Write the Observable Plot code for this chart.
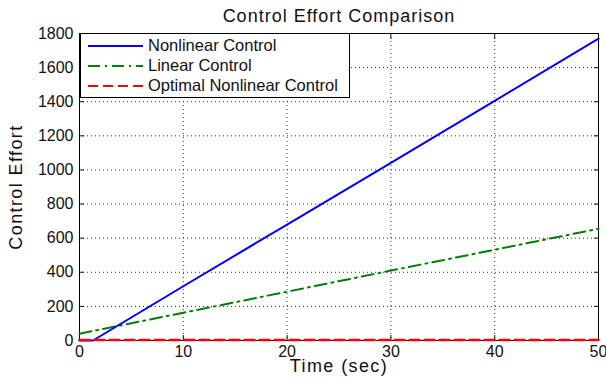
<!DOCTYPE html>
<html>
<head>
<meta charset="utf-8">
<script src="https://cdn.jsdelivr.net/npm/d3@7"></script>
<script src="https://cdn.jsdelivr.net/npm/@observablehq/plot@0.6"></script>
<style>
  body { margin: 0; background: #fff; font-family: Arial, "Liberation Sans", sans-serif; }
  #wrap { position: relative; width: 606px; height: 385px; }
  #legend { position: absolute; left: 80px; top: 33px; width: 270px; height: 65px; background: #fff;
            border: 1px solid #000; box-sizing: border-box; font-size: 16.5px; color: #111; }
  .row { position: absolute; left: 0; height: 20px; display: flex; align-items: center; }
  .row svg { margin-left: 7px; margin-right: 5px; }
  g[aria-label="x-axis label"] text, g[aria-label="y-axis label"] text { font-size: 18px; letter-spacing: 1.4px; }
  g[aria-label="x-axis tick label"] text, g[aria-label="y-axis tick label"] text { font-size: 16px; }
  g[aria-label="text"] text { letter-spacing: 1px; }
</style>
</head>
<body>
<div id="wrap"></div>
<script>
// Data
const timeNonlinear = [0, 1.3, 10, 20, 30, 40, 50];
const nonlinearControl = [0, 0, 318, 680, 1042, 1405, 1770];
const timeLinear = [0, 10, 20, 30, 40, 50];
const linearControl = [40, 163, 286, 410, 532, 655];
const timeOptimal = [0, 10, 20, 30, 40, 50];
const optimalControl = [3, 3, 3, 3, 3, 3];

const seriesNames = ["Nonlinear Control", "Linear Control", "Optimal Nonlinear Control"];
const seriesColors = ["#0000ff", "#008000", "#ff0000"];
const seriesDash = [null, "12,5,2,5", "10,5"];
const xTicks = [0, 10, 20, 30, 40, 50];
const yTicks = [0, 200, 400, 600, 800, 1000, 1200, 1400, 1600, 1800];

const nl = timeNonlinear.map((t, i) => ({t, v: nonlinearControl[i]}));
const li = timeLinear.map((t, i) => ({t, v: linearControl[i]}));
const op = timeOptimal.map((t, i) => ({t, v: optimalControl[i]}));

const fmt = d => String(d);

const chart = Plot.plot({
  width: 606,
  height: 385,
  marginLeft: 79,
  marginRight: 8,
  marginTop: 33,
  marginBottom: 45,
  style: { fontFamily: "Arial, 'Liberation Sans', sans-serif", fontSize: "16px", color: "#111", background: "#fff" },
  x: { domain: [0, 50] },
  y: { domain: [0, 1800] },
  marks: [
    Plot.gridX(xTicks, { stroke: "#333", strokeOpacity: 1, strokeDasharray: "1,3" }),
    Plot.gridY(yTicks, { stroke: "#333", strokeOpacity: 1, strokeDasharray: "1,3" }),
    Plot.axisX(xTicks, { anchor: "bottom", tickSize: 0, tickPadding: 5, tickFormat: fmt, label: "Time (sec)", labelAnchor: "center", labelOffset: 31, labelArrow: "none" }),
    Plot.axisY(yTicks, { anchor: "left", tickSize: 0, tickPadding: 6, tickFormat: fmt, label: "Control Effort", labelAnchor: "center", labelOffset: 70, labelArrow: "none" }),
    Plot.axisX(xTicks, { anchor: "bottom", tickSize: -5, tickFormat: () => "", label: null }),
    Plot.axisX(xTicks, { anchor: "top", tickSize: -5, tickFormat: () => "", label: null }),
    Plot.axisY(yTicks, { anchor: "left", tickSize: -5, tickFormat: () => "", label: null }),
    Plot.axisY(yTicks, { anchor: "right", tickSize: -5, tickFormat: () => "", label: null }),
    Plot.frame({ stroke: "#000", strokeWidth: 1 }),
    Plot.line(li, { x: "t", y: "v", stroke: seriesColors[1], strokeWidth: 2, strokeDasharray: seriesDash[1] }),
    Plot.line(nl, { x: "t", y: "v", stroke: seriesColors[0], strokeWidth: 2 }),
    Plot.line(op, { x: "t", y: "v", stroke: seriesColors[2], strokeWidth: 2.5, strokeDasharray: seriesDash[2] }),
    Plot.text(["Control Effort Comparison"], { frameAnchor: "top", lineAnchor: "middle", dy: -17, fontSize: 18, fill: "#111" })
  ]
});

const wrap = document.getElementById("wrap");
wrap.appendChild(chart);

const legend = document.createElement("div");
legend.id = "legend";
seriesNames.forEach((name, i) => {
  const row = document.createElement("div");
  row.className = "row";
  row.style.top = (1.5 + i * 20) + "px";
  const ns = "http://www.w3.org/2000/svg";
  const s = document.createElementNS(ns, "svg");
  s.setAttribute("width", 55);
  s.setAttribute("height", 6);
  const ln = document.createElementNS(ns, "line");
  ln.setAttribute("x1", 0); ln.setAttribute("x2", 55);
  ln.setAttribute("y1", 3); ln.setAttribute("y2", 3);
  ln.setAttribute("stroke", seriesColors[i]);
  ln.setAttribute("stroke-width", 2);
  if (seriesDash[i]) ln.setAttribute("stroke-dasharray", seriesDash[i]);
  s.appendChild(ln);
  row.appendChild(s);
  const tx = document.createElement("span");
  tx.textContent = name;
  row.appendChild(tx);
  legend.appendChild(row);
});
wrap.appendChild(legend);
</script>
</body>
</html>
